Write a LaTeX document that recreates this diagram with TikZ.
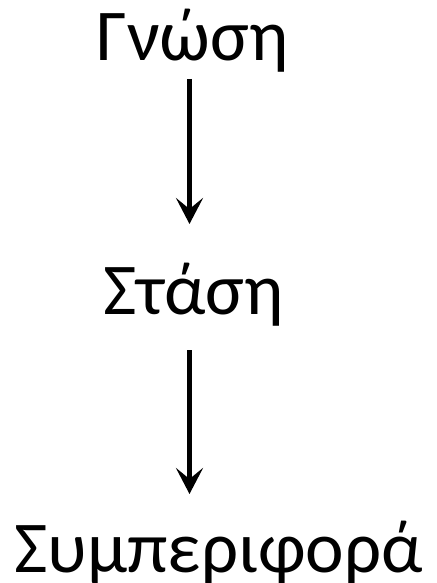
\documentclass[tikz,border=0pt]{standalone}
\usepackage{fontspec}
\setmainfont{Carlito}
\usetikzlibrary{arrows.meta}
\begin{document}
\begin{tikzpicture}[x=1pt,y=1pt,
  word/.style={anchor=base,inner sep=0pt,font=\fontsize{73}{80}\selectfont},
  arr/.style={line width=5pt,-{Stealth[length=26pt,width=27pt,inset=11pt]}}]
\useasboundingbox (0,0) rectangle (436,-583);
\node[word] (g) at (192.5,-61) {Γνώση};
\node[word] (s) at (193.5,-314) {Στάση};
\node[word] (b) at (218.5,-572) {Συμπεριφορά};
\coordinate (a1) at (189.5,-79);
\coordinate (e1) at (189.5,-224);
\coordinate (a2) at (189.5,-350);
\coordinate (e2) at (189.5,-494);
\draw[arr] (a1) -- (e1);
\draw[arr] (a2) -- (e2);
\end{tikzpicture}
\end{document}
